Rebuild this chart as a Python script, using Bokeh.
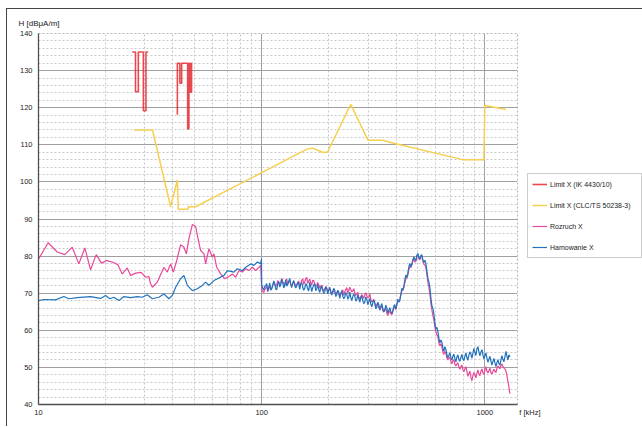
import numpy as np
from bokeh.plotting import figure
from bokeh.models import (Range1d, FixedTicker, CustomJSTickFormatter, Legend, LegendItem, Title)
from bokeh.embed import file_html
from bokeh.resources import INLINE

NAN = float("nan")

# ---- axis ticks ----
X_TICKS = [10, 100, 1000]
X_END = 1400
X_MINOR = [20, 30, 40, 50, 60, 70, 80, 90, 200, 300, 400, 500, 600, 700, 800, 900]
Y_TICKS = [40, 50, 60, 70, 80, 90, 100, 110, 120, 130, 140]
Y_MINOR = [v for v in range(42, 140, 2) if v % 10 != 0]
X_TITLE = "f [kHz]"
Y_TITLE = "H [dBμA/m]"

# ---- Limit X (IK 4430/10) ----
RED_F = [26.3, 27.2, 27.2, 28.0, 28.0, 29.5, 29.5, 30.3, 30.3, 31.0, NAN,
         41.9, 41.9, 43.0, 43.0, 43.8, 43.8, 46.6, 46.6, 47.2, 47.2, 47.9, 47.9, 48.5, 48.5, 48.9]
RED_V = [135, 135, 124.3, 124.3, 135, 135, 119.2, 119.2, 135, 135, NAN,
         118.1, 132, 132, 126.6, 126.6, 132, 132, 114.3, 114.3, 132, 132, 124.2, 124.2, 132, 132]

# ---- Limit X (CLC/TS 50238-3) ----
YEL_F = [26.8, 32.4, 39.1, 41.9, 42.3, 46.8, 46.8, 50.6, 160.3, 168.8, 187.2, 197.0,
         250.6, 299.8, 347.8, 398.9, 794.3, 990, 1000, 1100, 1242]
YEL_V = [114.0, 114.0, 93.3, 100.5, 92.6, 92.6, 93.3, 93.3, 108.9, 109.1, 108.0, 108.0,
         120.9, 111.2, 111.2, 110.3, 106.0, 106.0, 120.6, 120.1, 119.5]

# ---- Rozruch X, 10-100 kHz ----
ROZ_LF_F = [10.03, 11.05, 12.13, 13.12, 14.16, 15.16, 16.13, 17.11, 18.14, 19.16,
            20.18, 21.40, 22.68, 23.73, 24.99, 25.86, 27.23, 28.87, 30.18, 31.23,
            31.79, 32.36, 34.07, 36.47, 37.77, 39.07, 40.18, 41.45, 43.33, 44.84,
            45.96, 47.20, 48.89, 50.58, 51.49, 53.26, 55.11, 56.09, 58.03, 60.10,
            61.11, 62.83, 65.48, 68.25, 71.35, 73.90, 76.46, 79.11, 81.94, 84.78,
            87.72, 90.86, 93.99, 97.25, 98.97]
ROZ_LF_V = [79.3, 83.6, 81.1, 80.4, 82.4, 77.9, 82.2, 76.3, 80.4, 78.1,
            78.8, 78.4, 77.7, 75.2, 76.8, 74.8, 75.4, 75.6, 74.3, 74.5,
            72.5, 71.6, 73.0, 77.0, 75.7, 77.9, 75.7, 78.4, 83.1, 82.4,
            80.6, 84.7, 88.5, 88.0, 85.6, 81.5, 80.6, 77.9, 82.0, 79.7,
            80.6, 77.0, 75.2, 73.9, 74.5, 75.2, 74.3, 76.1, 75.7, 76.6,
            76.1, 77.0, 76.1, 77.0, 77.5]

# ---- Hamowanie X, 10-100 kHz ----
HAM_LF_F = [10.03, 10.56, 11.92, 12.99, 13.67, 14.91, 17.11, 18.97, 19.97, 20.88,
            21.76, 22.92, 24.13, 25.86, 27.71, 29.17, 30.72, 32.36, 34.64, 36.47,
            38.40, 39.78, 41.16, 43.33, 44.84, 46.44, 48.89, 51.49, 54.21, 56.09,
            58.03, 61.11, 64.36, 67.76, 70.20, 75.13, 77.80, 81.94, 84.78, 89.28,
            92.37, 95.65, 98.97, 99.8]
HAM_LF_V = [68.0, 68.3, 68.2, 69.1, 68.5, 68.8, 69.1, 68.6, 69.4, 68.5,
            68.9, 68.0, 69.1, 68.8, 69.1, 68.9, 69.6, 68.5, 68.9, 69.8,
            68.5, 69.4, 71.6, 73.9, 74.8, 72.1, 70.7, 71.2, 72.1, 73.0,
            72.1, 73.4, 74.1, 74.8, 76.1, 75.7, 76.6, 76.1, 77.0, 77.9,
            77.5, 78.4, 77.9, 79.3]

# ---- 100 kHz - 1.3 MHz sweep (log-spaced analyser bins) ----
SWEEP_F = np.geomspace(100, 1295, 249)
ROZ_HF_V = [71.0, 70.5, 70.2, 71.0, 71.4, 71.9, 70.4, 71.2, 72.0, 70.9,
            71.3, 72.1, 72.9, 72.4, 71.8, 72.2, 73.4, 73.0, 72.3, 72.8,
            74.0, 73.1, 72.6, 72.1, 73.5, 73.8, 72.4, 72.9, 73.6, 72.5,
            72.0, 72.6, 73.1, 72.7, 71.8, 72.3, 72.8, 73.3, 71.9, 72.5,
            73.5, 73.9, 72.4, 73.0, 73.9, 74.3, 72.6, 73.2, 73.8, 72.9,
            72.2, 73.5, 73.4, 72.5, 71.8, 72.2, 72.9, 72.3, 71.3, 71.9,
            72.2, 71.1, 70.6, 71.2, 71.8, 71.4, 70.2, 70.8, 71.3, 70.5,
            69.9, 70.3, 70.8, 70.1, 69.6, 70.2, 70.5, 69.8, 69.2, 69.8,
            70.4, 70.9, 69.4, 70.4, 71.0, 71.5, 70.0, 70.8, 71.6, 70.9,
            70.3, 70.7, 71.2, 70.1, 69.4, 69.9, 70.2, 69.0, 68.4, 69.1,
            69.6, 69.2, 68.6, 69.5, 70.1, 69.4, 68.8, 68.9, 69.8, 68.4,
            67.6, 68.0, 68.3, 67.1, 66.4, 67.0, 67.3, 66.2, 65.6, 66.1,
            66.6, 65.3, 64.9, 65.6, 65.9, 64.6, 64.0, 64.7, 65.3, 64.5,
            64.2, 65.1, 66.0, 66.3, 65.6, 66.9, 67.8, 67.9, 68.3, 69.7,
            70.6, 70.8, 71.5, 72.8, 73.9, 74.1, 74.9, 76.3, 77.2, 76.9,
            77.6, 78.7, 79.2, 78.4, 78.6, 79.7, 80.2, 79.4, 79.0, 80.0,
            79.9, 78.6, 77.8, 77.6, 76.9, 75.1, 73.0, 71.6, 69.8, 67.4,
            65.5, 64.0, 62.8, 61.0, 59.6, 58.8, 58.3, 56.5, 55.8, 56.4,
            55.6, 54.1, 53.5, 54.3, 53.8, 52.6, 52.0, 52.4, 52.8, 51.6,
            51.0, 51.8, 52.1, 50.8, 50.4, 50.9, 51.3, 50.1, 49.5, 50.2,
            50.6, 49.4, 48.8, 49.6, 50.2, 48.9, 47.6, 48.3, 49.0, 47.3,
            46.4, 47.8, 48.6, 48.0, 47.2, 48.4, 49.3, 48.2, 47.8, 48.9,
            49.6, 48.5, 48.1, 49.3, 50.2, 49.0, 48.5, 49.1, 49.8, 48.6,
            48.2, 48.9, 49.5, 49.0, 48.6, 49.7, 50.4, 50.0, 49.6, 50.5,
            51.0, 50.2, 49.8, 49.6, 49.0, 47.8, 46.2, 44.7, 42.9]
HAM_HF_V = [72.3, 71.4, 70.9, 71.8, 72.1, 72.6, 70.6, 71.5, 72.8, 70.8,
            71.2, 72.0, 73.3, 72.7, 71.1, 70.9, 72.6, 73.1, 71.7, 72.2,
            73.8, 72.9, 71.4, 72.0, 73.6, 71.9, 72.5, 73.2, 74.0, 72.3,
            71.5, 72.8, 73.4, 72.0, 71.4, 71.9, 73.0, 72.5, 71.0, 72.4,
            72.9, 71.6, 70.8, 71.3, 72.6, 72.1, 71.1, 70.6, 72.9, 71.8,
            70.4, 71.5, 72.2, 72.6, 70.7, 71.2, 72.4, 71.0, 70.2, 71.4,
            71.9, 70.7, 70.0, 70.4, 71.7, 71.2, 69.8, 70.9, 71.6, 70.1,
            69.5, 70.6, 71.3, 70.8, 69.1, 69.6, 70.8, 70.3, 68.6, 69.9,
            70.7, 69.2, 68.5, 69.0, 70.2, 69.7, 68.4, 68.9, 70.3, 68.8,
            68.0, 69.1, 69.8, 69.3, 67.9, 68.2, 69.6, 68.5, 67.6, 68.7,
            69.3, 68.0, 67.2, 67.6, 69.0, 68.4, 66.9, 67.7, 68.6, 67.1,
            66.3, 67.4, 68.2, 67.5, 65.8, 66.2, 67.6, 66.9, 65.4, 66.5,
            67.2, 65.8, 65.0, 65.5, 66.8, 66.0, 64.6, 65.4, 66.1, 65.1,
            64.5, 65.3, 66.6, 66.9, 65.7, 67.0, 68.4, 67.6, 68.0, 69.6,
            71.3, 70.9, 71.8, 73.6, 74.9, 74.3, 75.4, 77.1, 78.0, 77.2,
            77.8, 79.0, 79.8, 79.1, 78.9, 80.2, 80.7, 79.6, 79.2, 80.1,
            80.4, 79.0, 78.3, 78.9, 78.0, 76.1, 74.0, 73.1, 71.5, 68.8,
            66.6, 65.9, 64.5, 62.0, 60.3, 60.8, 59.7, 57.9, 56.6, 57.4,
            56.8, 55.2, 54.3, 55.6, 54.9, 53.4, 52.6, 53.2, 54.0, 52.7,
            52.0, 53.0, 53.6, 52.4, 51.5, 52.8, 53.4, 52.1, 51.6, 52.7,
            53.5, 52.3, 51.8, 53.0, 53.9, 52.6, 51.9, 53.3, 54.2, 53.6,
            52.5, 53.8, 55.1, 54.0, 53.2, 55.0, 55.6, 54.2, 53.1, 54.1,
            54.8, 53.4, 52.3, 53.2, 53.9, 52.5, 51.4, 52.2, 53.0, 51.7,
            50.6, 51.6, 52.4, 51.2, 50.2, 51.3, 52.1, 51.0, 50.6, 52.0,
            53.2, 52.1, 51.5, 52.9, 54.3, 53.0, 52.0, 53.4, 52.8]

ROZ_F = np.concatenate([ROZ_LF_F, SWEEP_F])
ROZ_V = np.concatenate([ROZ_LF_V, ROZ_HF_V])
HAM_F = np.concatenate([HAM_LF_F, SWEEP_F])
HAM_V = np.concatenate([HAM_LF_V, HAM_HF_V])

FONT = "Liberation Sans"

p = figure(frame_width=479, frame_height=371, x_axis_type="log",
           x_range=Range1d(10, X_END), y_range=Range1d(40, 140),
           output_backend="svg", toolbar_location=None, title=None,
           min_border_left=31, min_border_right=124, min_border_top=24, min_border_bottom=22,
           background_fill_color="white", border_fill_color="white")
p.styles = {"margin-left": "6px", "margin-top": "8px",
            "border-left": "1px solid #444", "border-top": "1px solid #444"}

p.outline_line_color = "#b4b4b4"
p.outline_line_dash = "2 2"

p.xaxis.ticker = FixedTicker(ticks=X_TICKS + [X_END], minor_ticks=X_MINOR)
p.yaxis.ticker = FixedTicker(ticks=Y_TICKS, minor_ticks=Y_MINOR)
p.xgrid.ticker = FixedTicker(ticks=X_TICKS, minor_ticks=X_MINOR)
p.xaxis.formatter = CustomJSTickFormatter(
    args=dict(end=X_END, title=X_TITLE),
    code="return tick >= end ? '\\u00a0'.repeat(12) + title : String(Math.round(tick));")
for ax in (p.xaxis, p.yaxis):
    ax.major_tick_out = 0
    ax.major_tick_in = 0
    ax.minor_tick_out = 0
    ax.minor_tick_in = 0
    ax.axis_line_color = "#505050"
    ax.axis_line_width = 1.3
    ax.major_label_text_font = FONT
    ax.major_label_text_font_size = "7.5px"
    ax.major_label_text_color = "#222222"
p.xaxis.major_label_standoff = 3
p.yaxis.major_label_standoff = 6

for g in (p.xgrid, p.ygrid):
    g.grid_line_color = "#a0a0a0"
    g.grid_line_width = 1
    g.minor_grid_line_color = "#c8c8c8"
    g.minor_grid_line_dash = "2 2"
    g.minor_grid_line_width = 1

r_red = p.line(RED_F, RED_V, line_color="#e52a32", line_width=1.6, line_alpha=0.85)
r_yel = p.line(YEL_F, YEL_V, line_color="#f6d052", line_width=1.5)
r_roz = p.line(ROZ_F, ROZ_V, line_color="#e9489a", line_width=1.2)
r_ham = p.line(HAM_F, HAM_V, line_color="#2173bd", line_width=1.2)

legend = Legend(items=[
    LegendItem(label="Limit X (IK 4430/10)", renderers=[r_red]),
    LegendItem(label="Limit X (CLC/TS 50238-3)", renderers=[r_yel]),
    LegendItem(label="Rozruch X", renderers=[r_roz]),
    LegendItem(label="Hamowanie X", renderers=[r_ham]),
], location=(10, 146), padding=4, spacing=9, glyph_width=15, glyph_height=12,
    label_height=12, label_width=87, label_standoff=3, label_text_font=FONT,
    label_text_font_size="7px", label_text_color="#222222",
    border_line_color="#9a9a9a", border_line_width=1,
    background_fill_color="white", background_fill_alpha=1, margin=0)
p.add_layout(legend, "right")

p.add_layout(Title(text=Y_TITLE, align="left", offset=-20, standoff=12,
                   text_font=FONT, text_font_size="8px", text_font_style="normal",
                   text_color="#222222"), "above")

open("out.html", "w").write(file_html(p, INLINE))
